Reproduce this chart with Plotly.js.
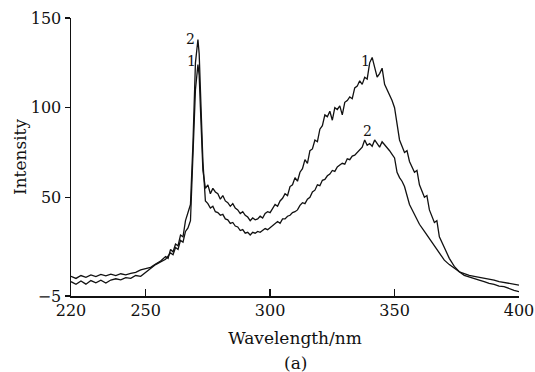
<!DOCTYPE html>
<html>
<head>
<meta charset="utf-8">
<script src="https://cdn.plot.ly/plotly-3.0.1.min.js"></script>
<style>html,body{margin:0;padding:0;background:#fff;}#chart{width:535px;height:372px;}</style>
</head>
<body>
<div id="chart"></div>
<script>
// Curve 1
const wl1 = [220,222,224,226,228,230,232,234,236,238,240,242,244,246,248,250,252,254,256,258,
  260,261,262,263,264,265,266,267,268,
  269,270,271,271.5,272,273,
  274,275,276,277,278,279,280,281,282,283,284,285,286,287,288,289,290,291,292,293,294,295,296,297,298,299,300,
  302,303,304,305,306,307,308,309,310,311,312,313,314,315,316,317,318,319,320,321,322,323,324,325,326,327,328,329,330,331,332,333,334,335,336,337,338,339,340,341,342,343,344,345,346,347,348,349,350,
  351,352,354,355,356,358,359,360,362,363,364,366,367,368,
  370,372,374,376,378,380,382,384,386,388,390,392,394,396,398,400];
const int1 = [3.0,1.5,3.4,1.6,3.6,2.4,3.8,2.2,3.9,4.6,4.0,5.2,4.8,6.4,6.0,8.2,10.5,12.5,14.0,15.5,
  19.0,18.0,22.0,21.0,26,25,31,33,37,
  70,110,124,118,100,65,
  55,57,52,55,53,52,49,51,48,47,45,46.5,44,43,41,42,40,39,37,38.5,37.5,38,39.5,38.5,41,42,41.5,
  46,45,48,49.5,52,51,56,57,61,59,64,66,71,69,76,77,82,81,88,90,96,95,98,93,100,99,101,96,103,104,106,105,111,112,115,113,117,116,125,128,123,117,119,122,113,110,107,104,100,
  90,82,75,76,70,64,65,57,50,51,43,36,37,28,
  22,16,11.5,8.5,6.5,5.5,4.5,3.9,3.0,2.0,1.5,0.5,0.2,-1.0,-1.8,-2.6];
// Curve 2
const wl2 = [220,222,224,226,228,230,232,234,236,238,240,242,244,246,248,250,252,254,256,258,
  259,260,261,262,263,264,265,266,267,268,
  269,270,271,271.5,272,273,
  274,275,276,277,278,279,280,281,282,283,284,285,286,287,288,289,290,291,292,293,294,295,296,297,298,299,300,
  301,302,303,304,305,306,307,308,309,310,311,312,313,314,315,316,317,318,319,320,321,322,323,324,325,326,327,328,329,330,331,332,333,334,335,336,337,338,339,340,341,342,343,344,345,346,347,348,349,350,
  351,352,353,354,
  356,358,360,362,364,366,368,370,372,374,376,378,380,382,384,386,388,390,392,394,396,398,400];
const int2 = [6.0,4.8,6.4,5.4,6.8,5.8,7.0,6.2,7.2,6.4,7.4,6.8,7.6,8.2,9.6,10.2,11.0,12.8,14.5,17.0,
  16.0,21.0,19.5,24.0,23,29,28,37,42,46,
  80,125,138,130,110,70,
  48,46.5,44,45,42,41.5,40,40.5,38,37.5,35.5,36,34,33.5,31.5,32,30,30.5,29,30.5,30,31,30.5,31.5,32.6,32,33,
  34,35,36.5,35.5,38,38,39.5,40,41.5,42,43,45.5,47,46.5,49,50,53,54,57,56.5,59.5,60,62,63,65,64.5,67,68,69,68.5,71.5,71,73,73.5,75,76,78,82,79,80,78.5,82,80,78,81,79.5,78,76,74,72,
  64,61,59,56,
  46,40,35,31,27,23,19,15,12.5,10.5,8.5,7.5,6.5,6.0,5.5,4.8,4.3,3.9,3.0,2.6,2.0,1.6,1.1];
// Curve labels
const labelText = ["2","1","1","2"];
const labelX = [268.2,268.6,338.5,339.2];
const labelY = [138.5,126,126,87];
const xTicks = [220,250,300,350,400];
const yTicks = [-5,50,100,150];
const yTickText = ["\u22125","50","100","150"];

const font = "DejaVu Serif, serif";
const traces = [
  {x: wl1, y: int1, mode: "lines", line: {color: "#111", width: 1.3}, hoverinfo: "skip"},
  {x: wl2, y: int2, mode: "lines", line: {color: "#111", width: 1.3}, hoverinfo: "skip"}
];
const annotations = labelText.map((t, i) => ({
  x: labelX[i], y: labelY[i], xref: "x", yref: "y", text: t, showarrow: false,
  font: {family: font, size: 14, color: "#111"}
}));
annotations.push({
  x: 0.5, y: -0.24, xref: "paper", yref: "paper", yanchor: "middle", text: "(a)", showarrow: false,
  font: {family: font, size: 17, color: "#111"}
});
const layout = {
  width: 535, height: 372,
  margin: {l: 71, r: 16, t: 18, b: 76},
  paper_bgcolor: "#fff", plot_bgcolor: "#fff",
  showlegend: false,
  font: {family: font, size: 17, color: "#111"},
  xaxis: {
    range: [220, 400], tickvals: xTicks, ticks: "inside", ticklen: 7, tickwidth: 1.5, tickcolor: "#111",
    showline: true, linecolor: "#111", linewidth: 1.5, showgrid: false, zeroline: false,
    ticklabeloverflow: "allow", ticklabelstandoff: -1,
    title: {text: "Wavelength/nm", font: {family: font, size: 17}, standoff: 13},
    tickfont: {family: font, size: 16}
  },
  yaxis: {
    range: [-5, 150], tickvals: yTicks, ticktext: yTickText, ticks: "outside", ticklen: 5, tickwidth: 1.5, tickcolor: "#111",
    showline: true, linecolor: "#111", linewidth: 1.5, showgrid: false, zeroline: false,
    title: {text: "Intensity", font: {family: font, size: 17}, standoff: 0},
    tickfont: {family: font, size: 16}
  },
  annotations: annotations
};
Plotly.newPlot("chart", traces, layout, {staticPlot: true, displayModeBar: false});
</script>
</body>
</html>
